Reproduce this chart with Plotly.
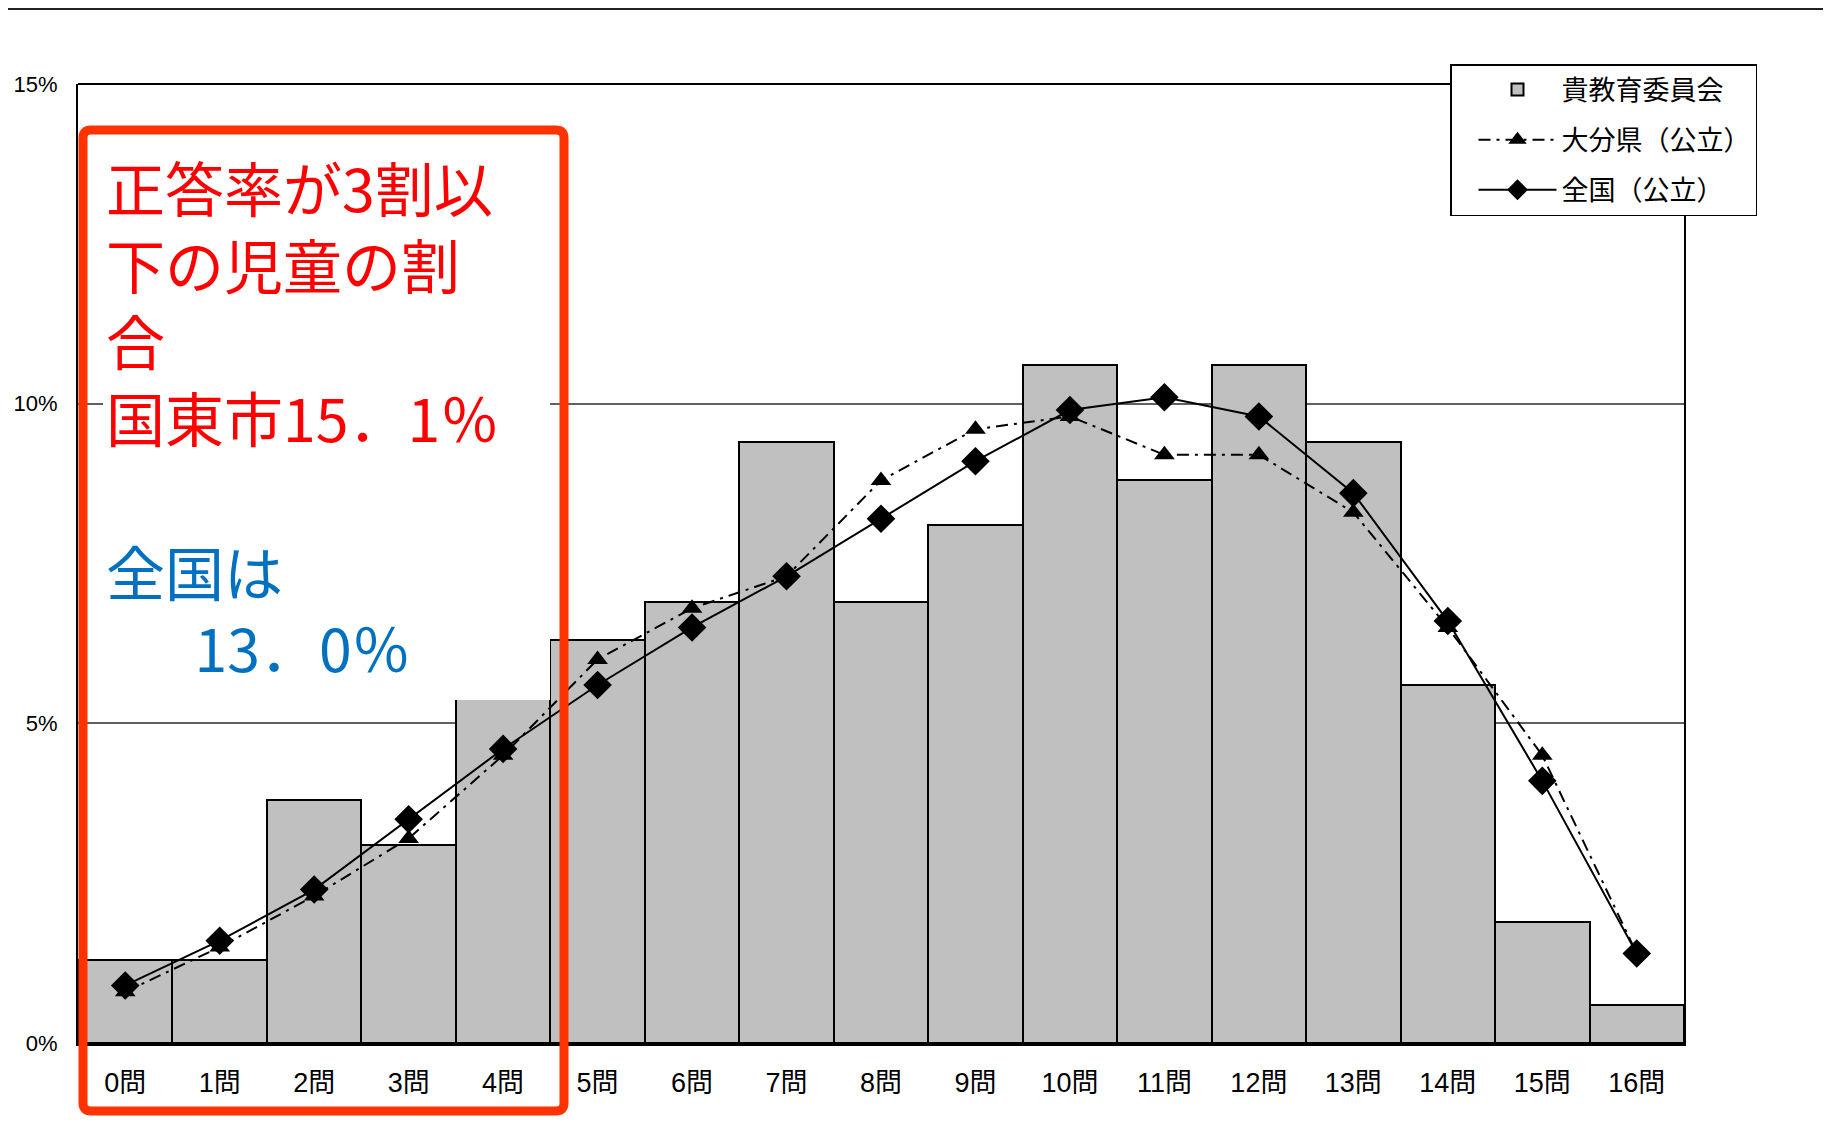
import plotly.graph_objects as go

# ---------------- data ----------------
categories = ["0問", "1問", "2問", "3問", "4問", "5問", "6問", "7問", "8問",
              "9問", "10問", "11問", "12問", "13問", "14問", "15問", "16問"]
board_pct = [1.3, 1.3, 3.8, 3.1, 5.6, 6.3, 6.9, 9.4, 6.9, 8.1, 10.6, 8.8,
             10.6, 9.4, 5.6, 1.9, 0.6]
oita_pct = [0.8, 1.5, 2.3, 3.2, 4.5, 6.0, 6.8, 7.3, 8.8, 9.6, 9.8, 9.2,
            9.2, 8.3, 6.5, 4.5, 1.4]
national_pct = [0.9, 1.6, 2.4, 3.5, 4.6, 5.6, 6.5, 7.3, 8.2, 9.1, 9.9, 10.1,
                9.8, 8.6, 6.6, 4.1, 1.4]
series_names = ["貴教育委員会", "大分県（公立）", "全国（公立）"]
y_tickvals = [0, 5, 10, 15]
y_ticktext = ["0%", "5%", "10%", "15%"]
red_lines = ["正答率が3割以", "下の児童の割", "合", "国東市15．1％"]
blue_lines = ["全国は", "\u3000\u200213．0％"]

# page geometry (browser body has an 8px margin)
OFF = 8
W, H = 1831 - 2 * OFF, 1124 - 2 * OFF
PL, PR, PT, PB = 78, 1684, 84, 1043          # plot area in page pixels
ML, MT = PL - OFF, PT - OFF
MR, MB = W - (PR - OFF), H - (PB - OFF)
PW, PH = PR - PL, PB - PT

def px_x(px):
    return (px - PL) / PW

def px_y(py):
    return (PB - py) / PH

TICK_FONT = "Liberation Sans, Arial, Noto Sans CJK JP, sans-serif"
CJK = "Noto Sans CJK JP, sans-serif"

fig = go.Figure()
fig.add_trace(go.Bar(
    x=categories, y=board_pct, name=series_names[0],
    marker=dict(color="#C0C0C0", line=dict(color="black", width=2)),
    legendgroup="a",
))
fig.add_trace(go.Scatter(
    x=categories, y=oita_pct, name=series_names[1], mode="lines+markers",
    line=dict(color="black", width=2, dash="12px,6px,3px,6px"),
    marker=dict(symbol="triangle-up", size=18, color="black"),
    legendgroup="b",
))
fig.add_trace(go.Scatter(
    x=categories, y=national_pct, name=series_names[2], mode="lines+markers",
    line=dict(color="black", width=2),
    marker=dict(symbol="diamond", size=22, color="black"),
    legendgroup="c",
))

# rounded red frame
x0, x1 = px_x(83), px_x(564)
y1, y0 = px_y(130), px_y(1111)
rx, ry = 8 / PW, 8 / PH
path = (f"M {x0+rx},{y0} L {x1-rx},{y0} Q {x1},{y0} {x1},{y0+ry} "
        f"L {x1},{y1-ry} Q {x1},{y1} {x1-rx},{y1} L {x0+rx},{y1} "
        f"Q {x0},{y1} {x0},{y1-ry} L {x0},{y0+ry} Q {x0},{y0} {x0+rx},{y0} Z")

shapes = [
    dict(type="rect", xref="paper", yref="paper",
         x0=px_x(103), x1=px_x(550), y0=px_y(700), y1=px_y(128),
         fillcolor="white", line=dict(width=0), layer="above"),
    dict(type="path", xref="paper", yref="paper", path=path,
         line=dict(color="#FF3300", width=9), fillcolor="rgba(0,0,0,0)", layer="above"),
    dict(type="line", xref="paper", yref="paper", x0=0, x1=1, y0=1, y1=1,
         line=dict(color="black", width=2), layer="above"),
    dict(type="line", xref="paper", yref="paper", x0=px_x(OFF), x1=px_x(OFF + W),
         y0=px_y(9), y1=px_y(9), line=dict(color="#222222", width=2)),
]

block = ("<br>".join(red_lines) + "<br> <br>" +
         "<br>".join(f'<span style="color:#0070C0">{t}</span>' for t in blue_lines))
annotations = [dict(
    xref="paper", yref="paper", x=px_x(104), y=px_y(416),
    xanchor="left", yanchor="middle", align="left", showarrow=False,
    text=block, font=dict(family=CJK, size=59, color="#FF0000"))]

fig.update_layout(
    width=W, height=H,
    margin=dict(l=ML, r=MR, t=MT, b=MB, pad=0),
    paper_bgcolor="white", plot_bgcolor="white",
    bargap=0,
    showlegend=True,
    legend=dict(x=px_x(1450), y=px_y(64), xanchor="left", yanchor="top",
                bgcolor="white", bordercolor="black", borderwidth=1.5,
                font=dict(family=CJK, size=27, color="black"),
                itemwidth=78, indentation=22, tracegroupgap=12,
                traceorder="grouped"),
    shapes=shapes,
    annotations=annotations,
    xaxis=dict(type="category", range=[-0.5, 16.5], showgrid=False,
               showline=True, linecolor="black", linewidth=3, mirror=False,
               ticks="", ticklabelstandoff=14, automargin=False,
               tickfont=dict(family=TICK_FONT, size=27, color="black")),
    yaxis=dict(range=[0, 15], tickvals=y_tickvals, ticktext=y_ticktext,
               showgrid=True, gridcolor="#606060", gridwidth=1.5,
               showline=True, linecolor="black", linewidth=2, mirror=True,
               zeroline=False, ticks="", ticklabelstandoff=14, automargin=False,
               tickfont=dict(family=TICK_FONT, size=22, color="black")),
)

fig.write_html("out.html")
